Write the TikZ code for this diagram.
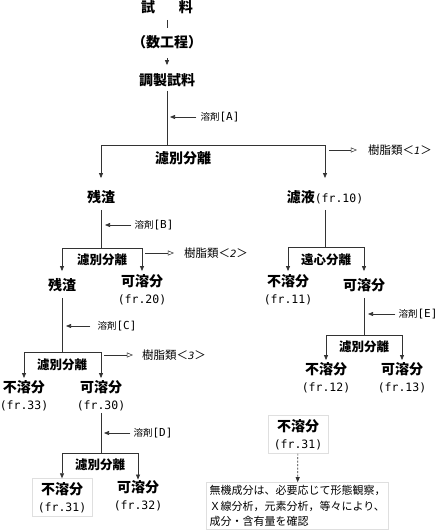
\documentclass[tikz,border=0pt]{standalone}
\usepackage{fontspec}
\setmainfont{Noto Sans CJK JP}
\newfontfamily\frfont{DejaVu Sans Mono}
\newfontfamily\numfont{DejaVu Sans}
\usetikzlibrary{arrows.meta}
\newcommand\frno[1]{{\mdseries\frfont\fontsize{11.5}{17}\selectfont(fr.#1)}}
\newcommand\resnum[1]{{\numfont\itshape\fontsize{10}{12}\selectfont #1}}
\newcommand\solvno[1]{{\frfont\fontsize{11}{12}\selectfont[#1]}}

\begin{document}
\begin{tikzpicture}[x=1pt, y=-1pt,
  lbl/.style={inner sep=1pt, align=center,
              font=\fontsize{14}{17}\selectfont\bfseries},
  sep/.style={inner sep=1pt, font=\fontsize{12.5}{14}\selectfont\bfseries},
  solv/.style={inner sep=1pt, font=\fontsize{9.5}{11}\selectfont},
  resin/.style={inner sep=1pt, font=\fontsize{11.5}{13}\selectfont},
  frac/.style={lbl, draw=gray!25, minimum width=60pt, minimum height=38pt},
  note/.style={draw=gray!25, align=left, inner sep=3pt,
               font=\fontsize{11}{15.5}\selectfont},
  line/.style={draw=black!80, line width=0.7pt},
  arr/.style={line, -{Triangle[length=5pt,width=4pt]}},
  oarr/.style={line, line width=0.5pt, -{Triangle[open,length=6pt,width=5pt]}}
]
  \useasboundingbox (0,0) rectangle (440,530);

  \node[lbl] (sample) at (167,7)  {試\hspace{1.7em}料};
  \node[lbl] (steps)  at (167,42) {（数工程）};
  \node[lbl] (prep)   at (167,80) {調製試料};
  \draw[line, shorten <=5pt, shorten >=6pt] (sample) -- (steps);
  \draw[arr, shorten <=8pt, shorten >=7pt] (steps) -- (prep);

  \coordinate (s1) at (167,145);
  \node[solv] (solvA) at (220,117) {溶剤\solvno{A}};
  \node[sep, font=\fontsize{14}{15}\selectfont\bfseries] (sep1) at (183,158) {濾別分離};
  \node[resin] (resin1) at (400,150) {樹脂類＜\resnum{1}＞};
  \node[lbl] (res1)  at (101,197) {残渣};
  \node[lbl] (filt1) at (325,197) {濾液\frno{10}};
  \draw[line, shorten <=3pt] (prep) -- (s1);
  \draw[arr, shorten <=3pt, shorten >=3pt] (solvA) -- (solvA -| prep);
  \draw[arr, shorten >=11pt] (s1) -| (res1);
  \draw[arr, shorten >=11pt] (s1) -| (filt1);
  \draw[oarr, shorten <=4pt, shorten >=10pt] (resin1 -| filt1) -- (resin1);

  \coordinate (s2) at (101,248);
  \node[solv] (solvB) at (154,225) {溶剤\solvno{B}};
  \node[sep] (sep2) at (102,260) {濾別分離};
  \node[resin] (resin2) at (216,253) {樹脂類＜\resnum{2}＞};
  \node[lbl] (res2)  at (62,285)    {残渣};
  \node[lbl] (sol20) at (142,289.5) {可溶分\\\frno{20}};
  \draw[line, shorten <=5pt] (res1) -- (s2);
  \draw[arr, shorten <=2pt, shorten >=4pt] (solvB) -- (solvB -| res1);
  \draw[arr, shorten >=6pt] (s2) -| (res2);
  \draw[arr, shorten >=2pt] (s2) -| (sol20);
  \draw[oarr, shorten <=3pt, shorten >=9pt] (resin2 -| sol20) -- (resin2);

  \coordinate (s3) at (325,247);
  \node[sep] (sep3) at (326,260) {遠心分離};
  \node[lbl] (ins11) at (288,289.5) {不溶分\\\frno{11}};
  \node[lbl] (solE)  at (364,285)   {可溶分};
  \draw[line, shorten <=5pt] (filt1) -- (s3);
  \draw[arr, shorten >=2pt] (s3) -| (ins11);
  \draw[arr, shorten >=6pt] (s3) -| (solE);

  \coordinate (s4) at (364,335);
  \node[solv] (solvE) at (418,314) {溶剤\solvno{E}};
  \node[sep] (sep4) at (364,347) {濾別分離};
  \node[lbl] (ins12) at (326,377.5) {不溶分\\\frno{12}};
  \node[lbl] (sol13) at (402,377.5) {可溶分\\\frno{13}};
  \draw[line, shorten <=5pt] (solE) -- (s4);
  \draw[arr, shorten <=2pt, shorten >=4pt] (solvE) -- (solvE -| solE);
  \draw[arr, shorten >=1pt] (s4) -| (ins12);
  \draw[arr, shorten >=1pt] (s4) -| (sol13);

  \coordinate (s5) at (62,352);
  \node[solv] (solvC) at (117,326) {溶剤\solvno{C}};
  \node[sep] (sep5) at (62,365) {濾別分離};
  \node[resin] (resin3) at (174,355) {樹脂類＜\resnum{3}＞};
  \node[lbl] (ins33) at (24,395.5)  {不溶分\\\frno{33}};
  \node[lbl] (sol30) at (101,395.5) {可溶分\\\frno{30}};
  \draw[line, shorten <=5pt] (res2) -- (s5);
  \draw[arr, shorten <=6pt, shorten >=4pt] (solvC) -- (solvC -| res2);
  \draw[arr, shorten >=1pt] (s5) -| (ins33);
  \draw[arr, shorten >=1pt] (s5) -| (sol30);
  \draw[oarr, shorten <=3pt, shorten >=8pt] (resin3 -| sol30) -- (resin3);

  \coordinate (s6) at (101,453);
  \node[solv] (solvD) at (153,433) {溶剤\solvno{D}};
  \node[sep] (sep6) at (100,465) {濾別分離};
  \node[frac] (ins31) at (62,497.5) {不溶分\\\frno{31}};
  \node[lbl] (sol32) at (138,496)   {可溶分\\\frno{32}};
  \draw[line, shorten <=1pt] (sol30) -- (s6);
  \draw[arr, shorten <=2pt, shorten >=3pt] (solvD) -- (solvD -| sol30);
  \draw[arr] (s6) -| (ins31);
  \draw[arr] (s6) -| (sol32);

  \node[frac] (ins31b) at (298,434.5) {不溶分\\\frno{31}};
  \node[note] (note) at (297.5,506)
        {無機成分は、必要応じて形態観察，\\Ｘ線分析，元素分析，等々により、\\成分・含有量を確認};
  \draw[arr, dash pattern=on 2pt off 1.5pt] (ins31b) -- (note);
\end{tikzpicture}
\end{document}
